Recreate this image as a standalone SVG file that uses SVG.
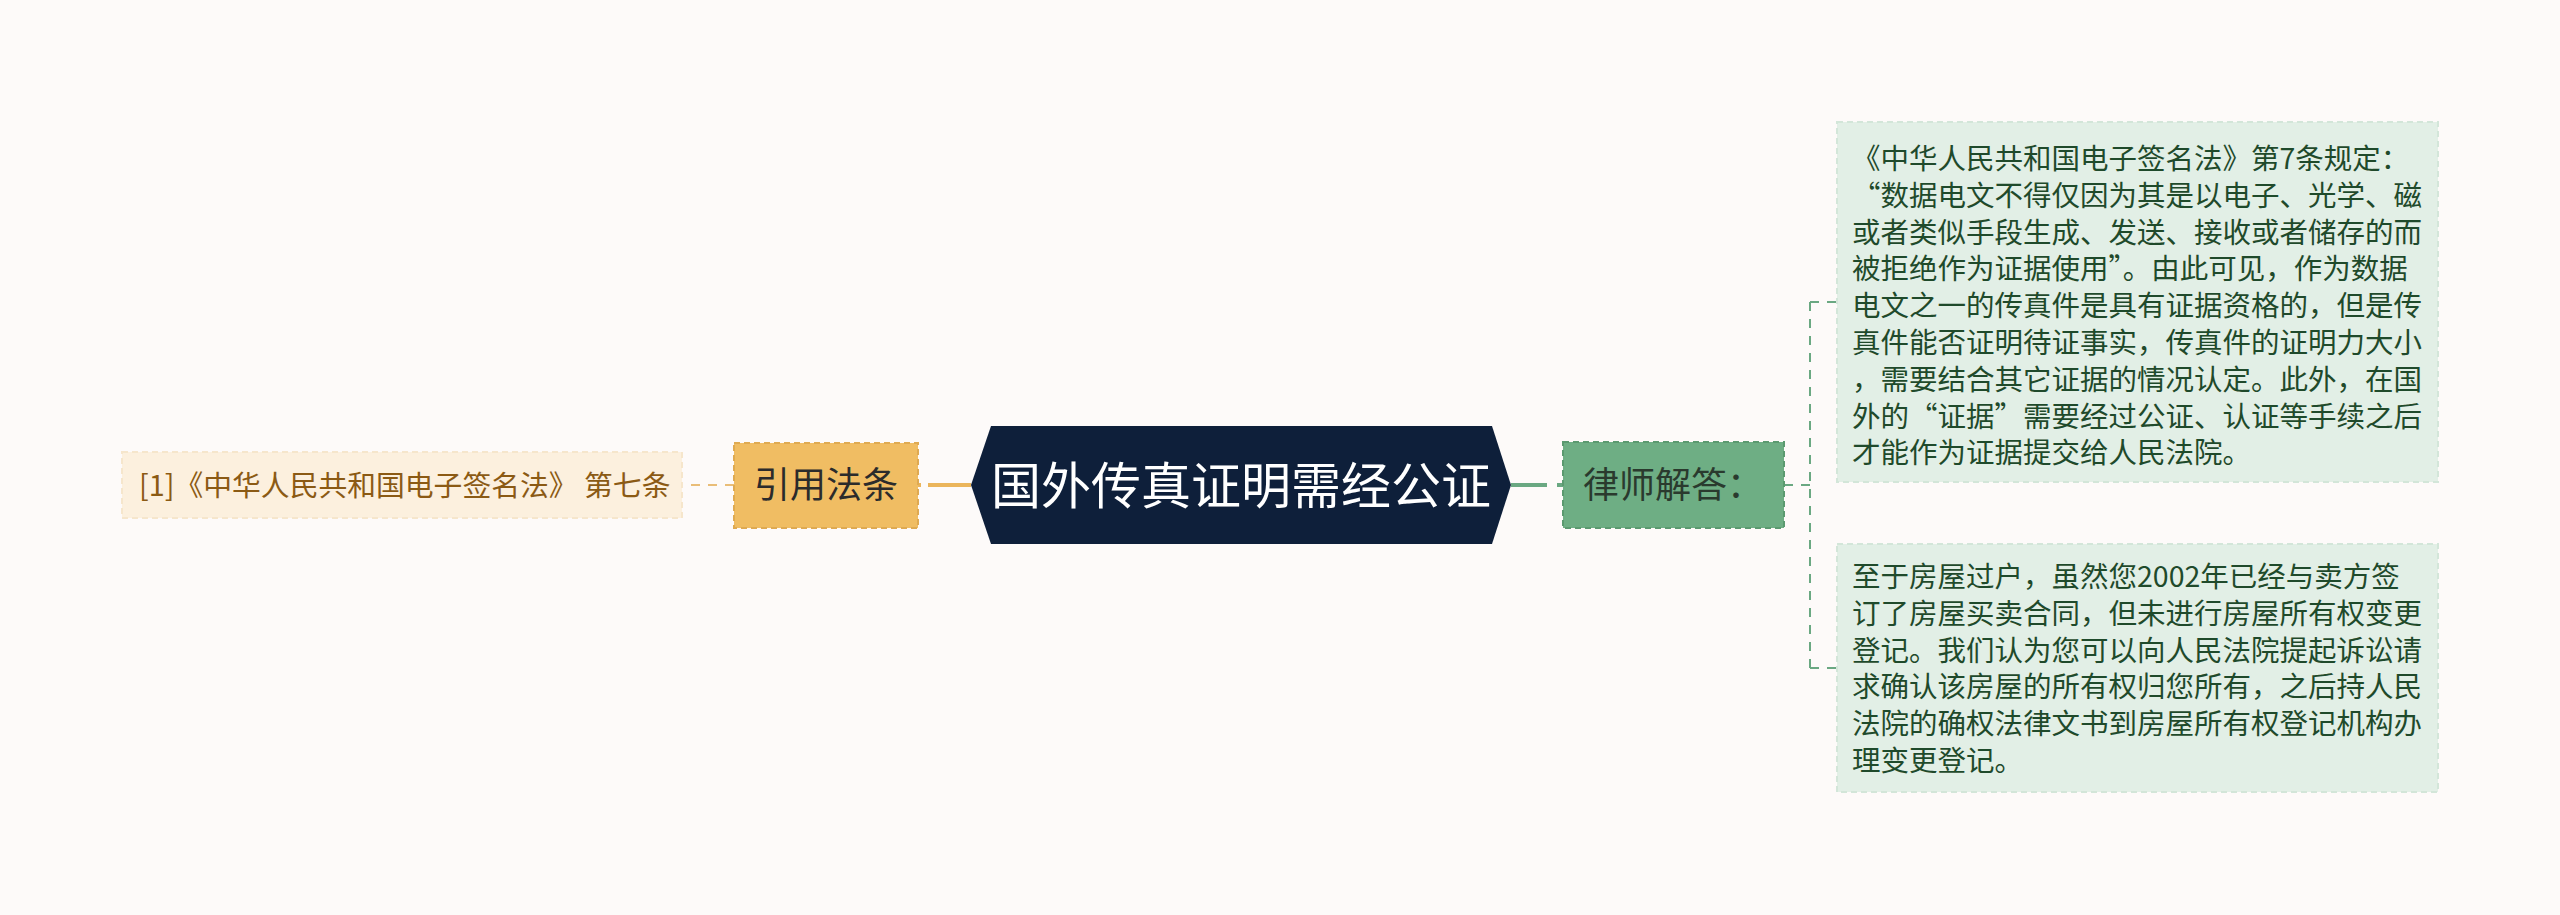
<svg xmlns="http://www.w3.org/2000/svg" width="2560" height="915" viewBox="0 0 2560 915">
<style>
text{font-family:"Noto Sans CJK SC","Noto Sans",sans-serif;}
.leaf{fill:#fcf0de;stroke:#f6e6cc;stroke-width:2;stroke-dasharray:6 4;}
.cite{fill:#f0bd63;stroke:#dfaa52;stroke-width:2;stroke-dasharray:6 4;}
.ans{fill:#6eae84;stroke:#5b9a70;stroke-width:2;stroke-dasharray:6 4;}
.txt{fill:#e2efe6;stroke:#d3e6d9;stroke-width:2;stroke-dasharray:6 4;}
.body{font-size:28.5px;fill:#1f4a2b;}
</style>
<rect width="2560" height="915" fill="#fdfaf9"/>
<g id="connectors" fill="none">
<line x1="971" y1="485" x2="918" y2="485" stroke="#ebb55c" stroke-width="4" stroke-dasharray="43 7"/>
<line x1="734" y1="485" x2="682" y2="485" stroke="#e9bd78" stroke-width="2" stroke-dasharray="9 8"/>
<line x1="1511" y1="485" x2="1563" y2="485" stroke="#6aa882" stroke-width="4" stroke-dasharray="36 10"/>
<path d="M1784 485H1810M1810 302V668M1810 302H1837M1810 668H1837" stroke="#6aa882" stroke-width="2" stroke-dasharray="9 8"/>
</g>
<g id="root">
<polygon points="971,485 991,426 1492,426 1511,485 1492,544 991,544" fill="#0e1f3a"/>
<text x="1241" y="504" font-size="50" fill="#ffffff" text-anchor="middle">国外传真证明需经公证</text>
</g>
<g id="cite">
<rect class="cite" x="734" y="443" width="184" height="85"/>
<text x="826" y="498" font-size="36" fill="#2b2b2b" text-anchor="middle">引用法条</text>
</g>
<g id="cite-leaf">
<rect class="leaf" x="122" y="452" width="560" height="66"/>
<text x="139" y="496" font-size="28.8" fill="#8b5a14">[1]《中华人民共和国电子签名法》 第七条</text>
</g>
<g id="answer">
<rect class="ans" x="1563" y="442" width="221" height="86"/>
<text x="1673" y="498" font-size="36" fill="#2a3a2e" text-anchor="middle">律师解答：</text>
</g>
<g id="answer-1">
<rect class="txt" x="1837" y="122" width="601" height="360"/>
<text class="body">
<tspan x="1852" y="169">《中华人民共和国电子签名法》第7条规定：</tspan>
<tspan x="1852" y="205.8">“数据电文不得仅因为其是以电子、光学、磁</tspan>
<tspan x="1852" y="242.6">或者类似手段生成、发送、接收或者储存的而</tspan>
<tspan x="1852" y="279.4">被拒绝作为证据使用”。由此可见，作为数据</tspan>
<tspan x="1852" y="316.2">电文之一的传真件是具有证据资格的，但是传</tspan>
<tspan x="1852" y="353">真件能否证明待证事实，传真件的证明力大小</tspan>
<tspan x="1852" y="389.8">，需要结合其它证据的情况认定。此外，在国</tspan>
<tspan x="1852" y="426.6">外的“证据”需要经过公证、认证等手续之后</tspan>
<tspan x="1852" y="463.4">才能作为证据提交给人民法院。</tspan>
</text>
</g>
<g id="answer-2">
<rect class="txt" x="1837" y="544" width="601" height="248"/>
<text class="body">
<tspan x="1852" y="587">至于房屋过户，虽然您2002年已经与卖方签</tspan>
<tspan x="1852" y="623.8">订了房屋买卖合同，但未进行房屋所有权变更</tspan>
<tspan x="1852" y="660.6">登记。我们认为您可以向人民法院提起诉讼请</tspan>
<tspan x="1852" y="697.4">求确认该房屋的所有权归您所有，之后持人民</tspan>
<tspan x="1852" y="734.2">法院的确权法律文书到房屋所有权登记机构办</tspan>
<tspan x="1852" y="771">理变更登记。</tspan>
</text>
</g>
</svg>
